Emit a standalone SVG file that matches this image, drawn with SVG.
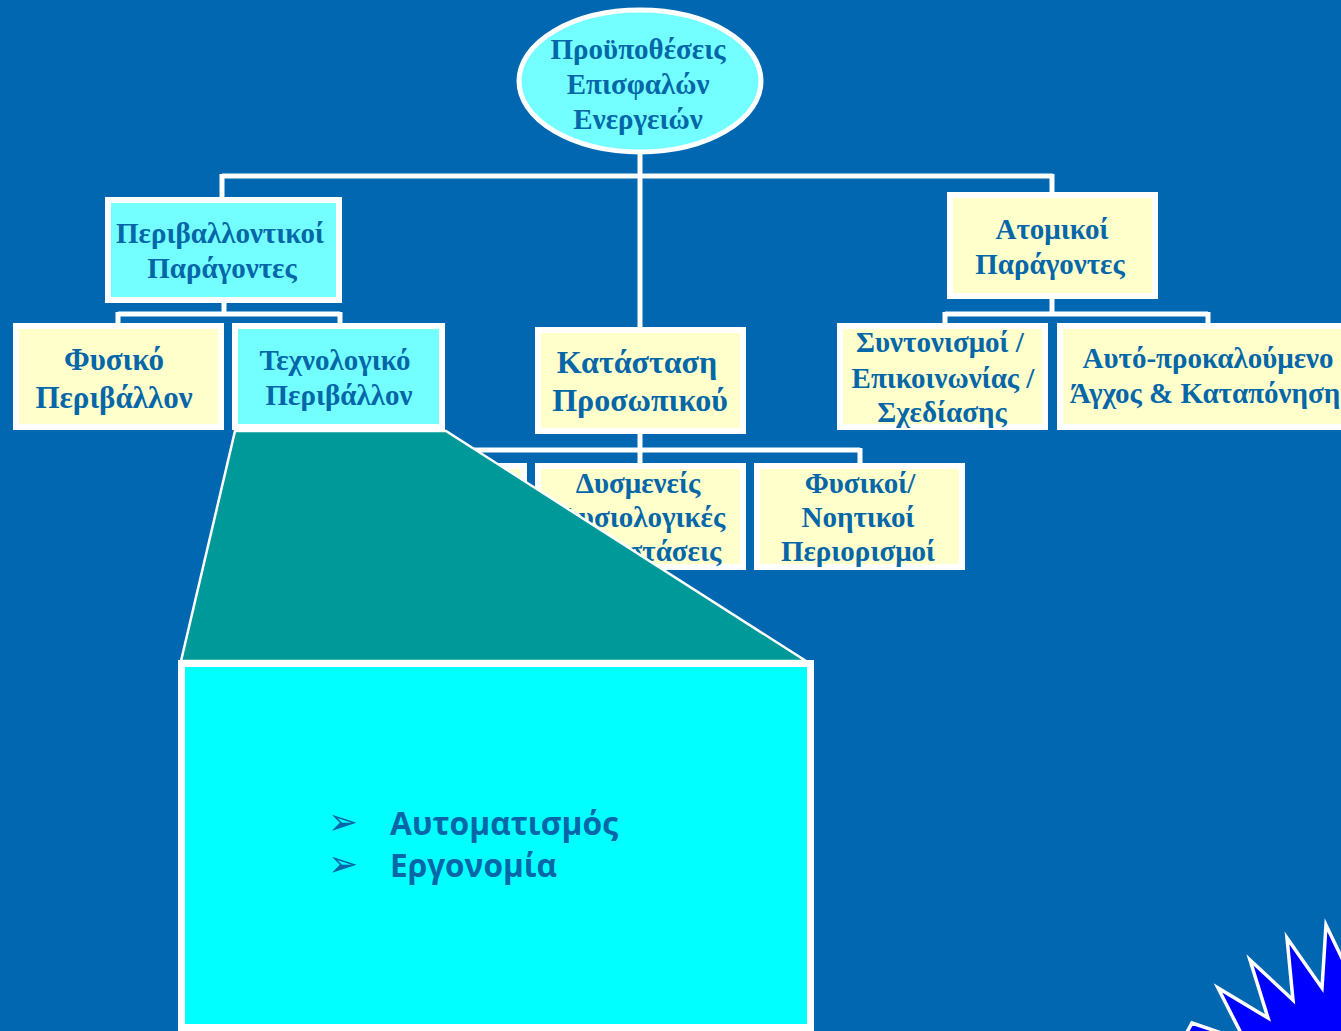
<svg xmlns="http://www.w3.org/2000/svg" width="1341" height="1031" viewBox="0 0 1341 1031">
<style>
.bg{fill:#0067B0}
.ln{stroke:#FFFFFF;stroke-width:5;fill:none}
.box{stroke:#FFFFFF;stroke-width:6}
.cy{fill:#73FFFF}
.ye{fill:#FFFFCC}
.t{font-family:"Liberation Serif","Times New Roman",serif;font-weight:bold;font-size:29px;fill:#0566A8;text-anchor:middle}
.tl{font-size:32px}
.bl{font-family:"Open Sans","DejaVu Sans",sans-serif;font-weight:bold;font-size:33px;fill:#0566A8}
.ar{font-family:"DejaVu Sans",sans-serif;font-size:36px;fill:#0566A8}
</style>
<rect class="bg" x="0" y="0" width="1341" height="1031"/>
<g id="connectors">
<path class="ln" d="M640,150 V330 M222,176 H1053 M222,174 V200 M1052,174 V195"/>
<path class="ln" d="M224,300 V314 M118,314 H340 M118,312 V326 M340,312 V326"/>
<path class="ln" d="M1052,296 V314 M945,314 H1208 M945,312 V326 M1208,312 V326"/>
<path class="ln" d="M640,431 V450 M421,450 H860 M421,448 V466 M640,448 V466 M860,448 V466"/>
</g>
<g id="root">
<ellipse cx="640" cy="81" rx="121" ry="71" fill="#73FFFF" stroke="#FFFFFF" stroke-width="5"/>
<text class="t" x="638" y="59">Προϋποθέσεις</text>
<text class="t" x="638" y="94">Επισφαλών</text>
<text class="t" x="638" y="129">Ενεργειών</text>
</g>
<g id="perivallontikoi">
<rect class="box cy" x="108" y="200" width="231" height="100"/>
<text class="t" x="220" y="243">Περιβαλλοντικοί</text>
<text class="t" x="222" y="278">Παράγοντες</text>
</g>
<g id="atomikoi">
<rect class="box ye" x="950" y="195" width="205" height="101"/>
<text class="t" x="1052" y="239">Ατομικοί</text>
<text class="t" x="1050" y="274">Παράγοντες</text>
</g>
<g id="fysiko">
<rect class="box ye" x="16" y="326" width="205" height="101"/>
<text class="t" style="font-size:31px" x="114" y="370">Φυσικό</text>
<text class="t" style="font-size:31px" x="114" y="408">Περιβάλλον</text>
</g>
<g id="technologiko">
<rect class="box cy" x="235" y="326" width="207" height="101"/>
<text class="t" x="335" y="370">Τεχνολογικό</text>
<text class="t" x="339" y="405">Περιβάλλον</text>
</g>
<g id="katastasi">
<rect class="box ye" x="538" y="330" width="205" height="101"/>
<text class="t tl" x="637" y="373">Κατάσταση</text>
<text class="t tl" x="640" y="411">Προσωπικού</text>
</g>
<g id="syntonismoi">
<rect class="box ye" x="840" y="326" width="205" height="101"/>
<text class="t" x="940" y="352">Συντονισμοί /</text>
<text class="t" x="943" y="388">Επικοινωνίας /</text>
<text class="t" x="942" y="422">Σχεδίασης</text>
</g>
<g id="agchos">
<rect class="box ye" x="1060" y="326" width="300" height="101"/>
<text class="t" x="1208" y="368">Αυτό-προκαλούμενο</text>
<text class="t" x="1205" y="403">Άγχος &amp; Καταπόνηση</text>
</g>
<g id="hidden-box">
<rect class="box ye" x="319" y="466" width="205" height="101"/>
</g>
<g id="dysmeneis">
<rect class="box ye" x="538" y="466" width="205" height="101"/>
<text class="t" x="638" y="493">Δυσμενείς</text>
<text class="t" x="640" y="527">Φυσιολογικές</text>
<text class="t" x="640" y="561">Καταστάσεις</text>
</g>
<g id="fysikoi">
<rect class="box ye" x="757" y="466" width="205" height="101"/>
<text class="t" x="860" y="493">Φυσικοί/</text>
<text class="t" x="858" y="527">Νοητικοί</text>
<text class="t" x="858" y="561">Περιορισμοί</text>
</g>
<g id="zoom-callout">
<polygon points="235,431 446,431 806,661 181,661" fill="#009999" stroke="#FFFFFF" stroke-width="2.5"/>
<rect x="181.5" y="663.5" width="629" height="364" fill="#00FFFF" stroke="#FFFFFF" stroke-width="7"/>
<text class="ar" x="328" y="834">➢</text>
<text class="ar" x="328" y="876">➢</text>
<text class="bl" x="390" y="835" textLength="228" lengthAdjust="spacingAndGlyphs">Αυτοματισμός</text>
<text class="bl" x="390" y="877" textLength="167" lengthAdjust="spacingAndGlyphs">Εργονομία</text>
</g>
<g id="starburst">
<polygon points="1192,1023 1245,1041 1218,988 1268,1018 1250,960 1293,1000 1287,938 1322,988 1326,925 1350,975 1400,1100 1150,1100" fill="#0000FF" stroke="#FFFFFF" stroke-width="3.5" stroke-linejoin="miter"/>
</g>
</svg>
